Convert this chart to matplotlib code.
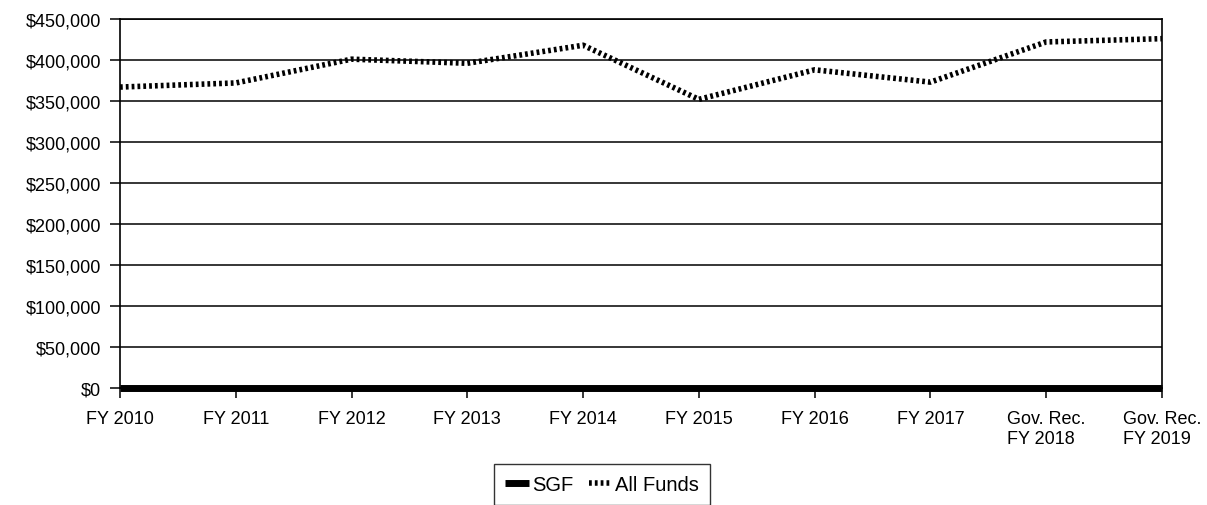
import matplotlib.pyplot as plt
from matplotlib.ticker import FuncFormatter

plt.rcParams['font.family'] = ['Liberation Sans', 'DejaVu Sans']
plt.rcParams['font.size'] = 13

categories = ['FY 2010', 'FY 2011', 'FY 2012', 'FY 2013', 'FY 2014', 'FY 2015',
              'FY 2016', 'FY 2017', 'Gov. Rec.\nFY 2018', 'Gov. Rec.\nFY 2019']
sgf = [0, 0, 0, 0, 0, 0, 0, 0, 0, 0]
all_funds = [367000, 372000, 401000, 396000, 418000, 352000, 388000, 373000, 422000, 426000]

fig = plt.figure(figsize=(12.07, 5.06), dpi=100)
ax = fig.add_axes([0.0994, 0.2312, 0.8633, 0.7293])

x = range(len(categories))
ax.plot(x, sgf, color='black', lw=5, solid_capstyle='butt', clip_on=False, label='SGF', zorder=4)
ax.plot(x, all_funds, color='black', lw=4.0, linestyle=(0, (0.5, 0.55)),
        dash_capstyle='butt', label='All Funds', zorder=3)

ax.set_xlim(0, len(categories) - 1)
ax.set_ylim(0, 450000)
ax.set_yticks(range(0, 450001, 50000))
ax.yaxis.set_major_formatter(FuncFormatter(lambda v, p: '${:,.0f}'.format(v)))
ax.set_xticks(list(x))
ax.set_xticklabels(categories, multialignment='left')
ax.grid(axis='y', color='black', lw=1.1)
ax.set_axisbelow(True)
for s in ax.spines.values():
    s.set_linewidth(1.2)
ax.tick_params(axis='y', length=7, width=1.1, pad=6.5)
ax.tick_params(axis='x', length=7, width=1.1, pad=9)

leg = fig.legend(loc='lower center', bbox_to_anchor=(0.499, -0.02), ncol=2, frameon=True,
                 fancybox=False, edgecolor='black', handlelength=1.15, handletextpad=0.15,
                 columnspacing=0.8, borderpad=0.55, fontsize=14.5)
leg.get_frame().set_linewidth(1.0)

fig.savefig('out.png', dpi=100)
